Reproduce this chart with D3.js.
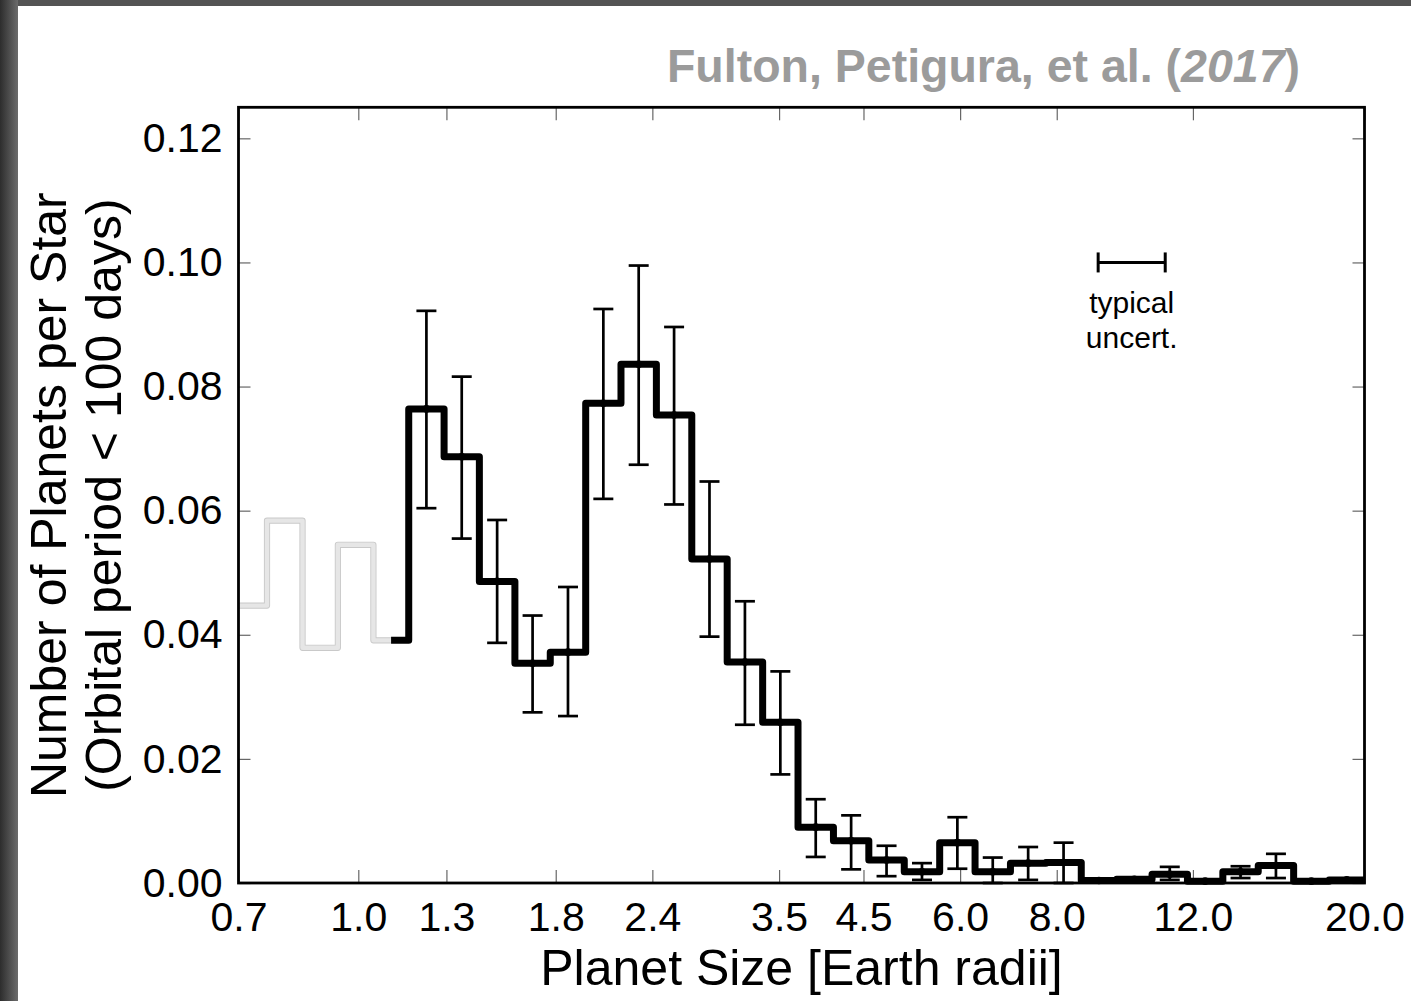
<!DOCTYPE html>
<html>
<head>
<meta charset="utf-8">
<script src="https://cdn.jsdelivr.net/npm/d3@7"></script>
<style>
  html, body { margin: 0; padding: 0; background: #fff; }
  svg { display: block; font-family: "Liberation Sans", Arial, Helvetica, sans-serif; }
</style>
</head>
<body>
<svg id="chart" width="1411" height="1001"></svg>
<script>
// Planet radius bin edges (log-spaced, Earth radii); the first edge is clipped at the axis start.
const binEdges = [0.7, 0.762, 0.847, 0.941, 1.046, 1.162, 1.291, 1.434, 1.594, 1.771,
  1.968, 2.186, 2.429, 2.699, 2.999, 3.333, 3.703, 4.115, 4.572, 5.081, 5.646,
  6.273, 6.970, 7.745, 8.606, 9.562, 10.625, 11.806, 13.118, 14.576, 16.196, 17.996, 20.0];

// Planets per star in each bin (orbital period < 100 days)
const occurrence = [0.0447, 0.0584, 0.0379, 0.0545, 0.0391, 0.0764, 0.0687, 0.0486,
  0.0354, 0.0372, 0.0773, 0.0836, 0.0754, 0.0522, 0.0356, 0.0259, 0.0090, 0.0068,
  0.0037, 0.0018, 0.0065, 0.0018, 0.0032, 0.0033, 0.0004, 0.0006, 0.0014, 0.0003,
  0.0018, 0.0028, 0.0003, 0.0005];

// Lower / upper uncertainty bounds per bin (null = not shown)
const errLow = [null, null, null, null, null, 0.0604, 0.0555, 0.0387, 0.0275, 0.0269,
  0.0619, 0.0674, 0.0610, 0.0397, 0.0255, 0.0175, 0.0042, 0.0022, 0.0011, 0.0005,
  0.0023, 0.0000, 0.0005, 0.0000, null, null, 0.0005, null, 0.0008, 0.0008, null, null];
const errHigh = [null, null, null, null, null, 0.0922, 0.0816, 0.0585, 0.0431, 0.0477,
  0.0925, 0.0995, 0.0896, 0.0647, 0.0454, 0.0341, 0.0135, 0.0109, 0.0060, 0.0032,
  0.0106, 0.0041, 0.0058, 0.0065, null, null, 0.0026, null, 0.0027, 0.0047, null, null];

// Index of the bin whose centre marks the start of the well-measured (black) histogram
const completeBin = 4;

const xTicks = [0.7, 1.0, 1.3, 1.8, 2.4, 3.5, 4.5, 6.0, 8.0, 12.0, 20.0];
const yTicks = [0.00, 0.02, 0.04, 0.06, 0.08, 0.10, 0.12];

// Typical radius uncertainty shown as a horizontal bar
const typicalUncert = { lo: 9.05, hi: 11.05, y: 0.10 };

const svg = d3.select("#chart");
const W = 1411, H = 1001;

// Slide frame: dark band on the left and top
const defs = svg.append("defs");
const lg = defs.append("linearGradient").attr("id", "leftShade").attr("x1", 0).attr("x2", 1).attr("y1", 0).attr("y2", 0);
lg.append("stop").attr("offset", "0%").attr("stop-color", "#2d2d2d");
lg.append("stop").attr("offset", "100%").attr("stop-color", "#6c6c6c");
svg.append("rect").attr("x", 0).attr("y", 0).attr("width", W).attr("height", 6).attr("fill", "#545454");
svg.append("rect").attr("x", 0).attr("y", 0).attr("width", 18).attr("height", H).attr("fill", "url(#leftShade)");
svg.append("rect").attr("x", 18).attr("y", 6).attr("width", W - 18).attr("height", H - 6).attr("fill", "#ffffff");

const plot = { left: 238.5, right: 1364.5, top: 107.3, bottom: 883 };

const x = d3.scaleLog().domain([0.7, 20]).range([plot.left, plot.right]);
const y = d3.scaleLinear().domain([0, 0.125]).range([plot.bottom, plot.top]);

// Ticks (inward on all four sides)
const tickColor = "#666";
const fmt1 = d3.format(".1f"), fmt2 = d3.format(".2f");

const gx = svg.append("g").attr("transform", `translate(0,${plot.bottom})`)
  .call(d3.axisBottom(x).tickValues(xTicks).tickFormat(fmt1).tickSizeInner(-13).tickSizeOuter(0).tickPadding(19));
const gxTop = svg.append("g").attr("transform", `translate(0,${plot.top})`)
  .call(d3.axisTop(x).tickValues(xTicks).tickFormat("").tickSizeInner(-13).tickSizeOuter(0));
const gy = svg.append("g").attr("transform", `translate(${plot.left},0)`)
  .call(d3.axisLeft(y).tickValues(yTicks).tickFormat(fmt2).tickSizeInner(-12).tickSizeOuter(0).tickPadding(16));
const gyRight = svg.append("g").attr("transform", `translate(${plot.right},0)`)
  .call(d3.axisRight(y).tickValues(yTicks).tickFormat("").tickSizeInner(-12).tickSizeOuter(0));

[gx, gxTop, gy, gyRight].forEach(g => {
  g.select(".domain").remove();
  g.selectAll(".tick line").attr("stroke", tickColor).attr("stroke-width", 1.2);
  g.selectAll(".tick text").attr("fill", "#000").attr("font-size", 41)
    .attr("font-family", "'Liberation Sans', Arial, sans-serif");
});

// Histogram step lines
const stepLine = d3.line().x(d => x(d[0])).y(d => y(d[1])).curve(d3.curveStepAfter);
const binCenter = i => Math.sqrt(binEdges[i] * binEdges[i + 1]);
const cutX = binCenter(completeBin);

const grayPts = [];
for (let i = 0; i <= completeBin; i++) grayPts.push([binEdges[i], occurrence[i]]);
grayPts.push([cutX, occurrence[completeBin]]);

const blackPts = [[cutX, occurrence[completeBin]]];
for (let i = completeBin + 1; i < occurrence.length; i++) blackPts.push([binEdges[i], occurrence[i]]);
blackPts.push([binEdges[binEdges.length - 1], occurrence[occurrence.length - 1]]);

const plotG = svg.append("g");
plotG.append("path").attr("d", stepLine(grayPts)).attr("fill", "none")
  .attr("stroke", "#c9c9c9").attr("stroke-width", 6.2).attr("stroke-linejoin", "round");
plotG.append("path").attr("d", stepLine(grayPts)).attr("fill", "none")
  .attr("stroke", "#e6e6e6").attr("stroke-width", 4.4).attr("stroke-linejoin", "round");

// Error bars
const bars = d3.range(occurrence.length).filter(i => errLow[i] !== null && errHigh[i] !== null);
const capW = 10;
const eb = plotG.append("g").attr("stroke", "#000").attr("stroke-width", 2.7).attr("fill", "none");
bars.forEach(i => {
  const cx = x(binCenter(i));
  eb.append("line").attr("x1", cx).attr("x2", cx).attr("y1", y(errLow[i])).attr("y2", y(errHigh[i]));
  eb.append("line").attr("x1", cx - capW).attr("x2", cx + capW).attr("y1", y(errLow[i])).attr("y2", y(errLow[i]));
  eb.append("line").attr("x1", cx - capW).attr("x2", cx + capW).attr("y1", y(errHigh[i])).attr("y2", y(errHigh[i]));
});

plotG.append("path").attr("d", stepLine(blackPts)).attr("fill", "none")
  .attr("stroke", "#000").attr("stroke-width", 7).attr("stroke-linejoin", "round");

// Bin centre markers
plotG.selectAll("circle.pt").data(d3.range(completeBin + 1, occurrence.length)).join("circle")
  .attr("class", "pt").attr("cx", i => x(binCenter(i))).attr("cy", i => y(occurrence[i]))
  .attr("r", 3.8).attr("fill", "#000");

// Axes frame
svg.append("rect").attr("x", plot.left).attr("y", plot.top)
  .attr("width", plot.right - plot.left).attr("height", plot.bottom - plot.top)
  .attr("fill", "none").attr("stroke", "#000").attr("stroke-width", 2.8);

// Typical uncertainty marker
const tu = svg.append("g").attr("stroke", "#000").attr("stroke-width", 3);
const tuy = y(typicalUncert.y);
tu.append("line").attr("x1", x(typicalUncert.lo)).attr("x2", x(typicalUncert.hi)).attr("y1", tuy).attr("y2", tuy);
tu.append("line").attr("x1", x(typicalUncert.lo)).attr("x2", x(typicalUncert.lo)).attr("y1", tuy - 10).attr("y2", tuy + 10);
tu.append("line").attr("x1", x(typicalUncert.hi)).attr("x2", x(typicalUncert.hi)).attr("y1", tuy - 10).attr("y2", tuy + 10);
const tuMid = x(Math.sqrt(typicalUncert.lo * typicalUncert.hi));
svg.append("text").attr("x", tuMid).attr("y", tuy + 51).attr("text-anchor", "middle")
  .attr("font-size", 30).text("typical");
svg.append("text").attr("x", tuMid).attr("y", tuy + 86).attr("text-anchor", "middle")
  .attr("font-size", 30).text("uncert.");

// Axis titles
svg.append("text").attr("x", (plot.left + plot.right) / 2).attr("y", 985)
  .attr("text-anchor", "middle").attr("font-size", 50).text("Planet Size [Earth radii]");

const yMid = (plot.top + plot.bottom) / 2;
svg.append("text").attr("transform", `translate(66,${yMid}) rotate(-90)`)
  .attr("text-anchor", "middle").attr("font-size", 50).text("Number of Planets per Star");
svg.append("text").attr("transform", `translate(121,${yMid}) rotate(-90)`)
  .attr("text-anchor", "middle").attr("font-size", 50).text("(Orbital period < 100 days)");

// Citation
const cite = svg.append("text").attr("x", 1300).attr("y", 82).attr("text-anchor", "end")
  .attr("font-size", 46.5).attr("font-weight", "bold").attr("fill", "#9b9b9b");
cite.append("tspan").text("Fulton, Petigura, et al. (");
cite.append("tspan").attr("font-style", "italic").text("2017");
cite.append("tspan").text(")");
</script>
</body>
</html>
